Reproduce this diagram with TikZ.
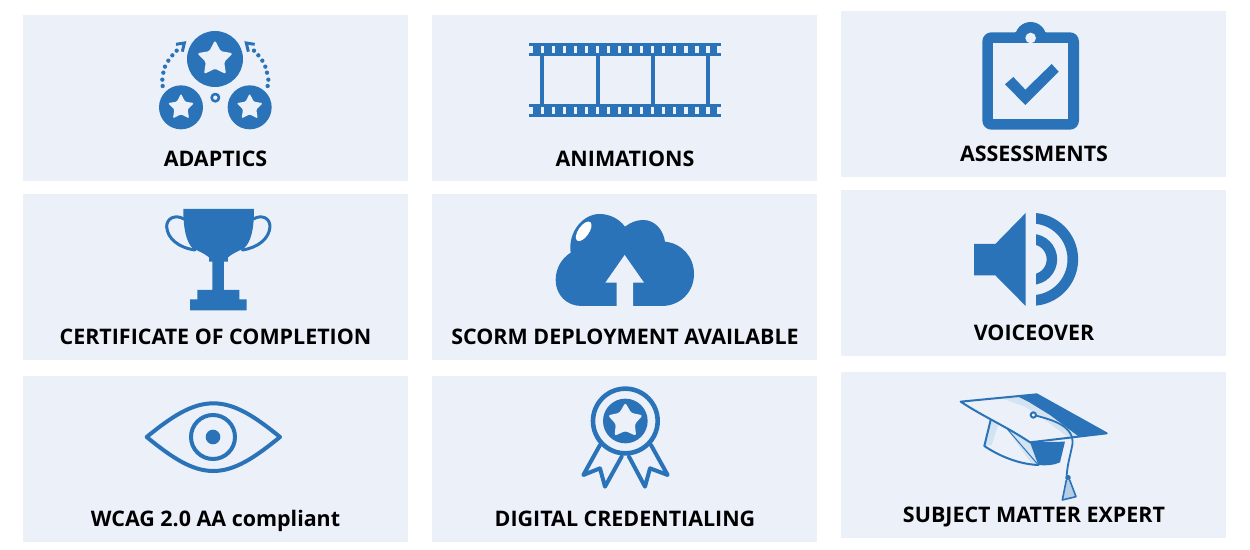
\documentclass[tikz,border=0pt]{standalone}
\usepackage{fontspec}
\setmainfont{Open Sans}
\definecolor{panelc}{HTML}{ECF0F9}
\definecolor{iconc}{HTML}{2A73B8}
\newcommand{\rstar}[4][1pt]{%
  \fill[panelc,rounded corners=#1,shift={(#2)}]
    (-90:#3) -- (-54:#4) -- (-18:#3) -- (18:#4) -- (54:#3) -- (90:#4) -- (126:#3) -- (162:#4) -- (198:#3) -- (234:#4) -- cycle;}
\tikzset{
  x=0.5pt,y=-0.5pt,
  panel/.style={fill=panelc,draw=none,minimum width=192.5pt,minimum height=83pt,inner sep=0pt,outer sep=0pt},
  lab/.style={font=\bfseries\fontsize{10.72}{12}\selectfont,text=black,inner sep=0pt,anchor=base},
  zoomat/.style 2 args={shift={(#1,#2)},scale=1/3},
  ic/.style={fill=iconc,draw=none},
  ln/.style={draw=iconc,fill=none,line join=round,line cap=round},
  hole/.style={fill=panelc,draw=none}
}
\begin{document}
\begin{tikzpicture}
\fill[white] (0,0) rectangle (1250,550);
\useasboundingbox (0,0) rectangle (1250,550);
% panels
\node[panel] (p1) at (215.5,98) {};
\node[panel] (p2) at (624.5,98) {};
\node[panel] (p3) at (1033.5,94) {};
\node[panel] (p4) at (215.5,277) {};
\node[panel] (p5) at (624.5,277) {};
\node[panel] (p6) at (1033.5,273) {};
\node[panel] (p7) at (215.5,459) {};
\node[panel] (p8) at (624.5,459) {};
\node[panel] (p9) at (1033.5,455) {};
% labels
\node[lab] (l1) at (215.5,167) {ADAPTICS};
\node[lab] (l2) at (625,167) {ANIMATIONS};
\node[lab] (l3) at (1034,162) {ASSESSMENTS};
\node[lab] (l4) at (215.5,345) {CERTIFICATE OF COMPLETION};
\node[lab] (l5) at (625,345) {SCORM DEPLOYMENT AVAILABLE};
\node[lab] (l6) at (1034,341) {VOICEOVER};
\node[lab] (l7) at (215.5,527) {WCAG 2.0 AA compliant};
\node[lab] (l8) at (625,527) {DIGITAL CREDENTIALING};
\node[lab] (l9) at (1034,523) {SUBJECT MATTER EXPERT};
% adaptics
\begin{scope}[zoomat={140}{20}]
  \fill[ic] (225,117) circle (84);
  \fill[ic] (123,262) circle (66);
  \fill[ic] (329,262) circle (66);
  \rstar[0.8pt]{225,117}{56}{29}
  \rstar[0.6pt]{123,262}{41}{21}
  \rstar[0.6pt]{329,262}{41}{21}
  \draw[ln,line width=1.3pt] (226,233) circle (11);
  \foreach \a/\b in {68/198,67/179,70/158,75/140,85/122,97/106,110/92,383/198,385/179,381/158,376/140,367/122,355/106,342/92}
    \fill[ic] (\a,\b) circle (6.5);
  \draw[ln,line width=1.5pt,line join=miter,line cap=butt] (108,73) -- (133,69) -- (127,95);
  \draw[ln,line width=1.5pt,line join=miter,line cap=butt] (344,73) -- (319,69) -- (325,95);
\end{scope}
% film
\begin{scope}[zoomat={520}{30}]
  \fill[ic] (28,38) rectangle (602,78);
  \fill[ic] (28,222) rectangle (602,262);
  \foreach \vx in {60,227,393,558} \fill[ic] (\vx,78) rectangle ++(12.5,144);
  \foreach \vy in {48,232}{
    \fill[hole] (28,\vy) rectangle (40,\vy+20);
    \fill[hole] (590,\vy) rectangle (602,\vy+20);
    \foreach \vx in {67,100,133,166,199,232,266,299,332,365,398,431,464,498,531,564}
      \fill[hole] (\vx-5,\vy) rectangle (\vx+5,\vy+20);
  }
\end{scope}
% clipboard
\begin{scope}[zoomat={960}{15}]
  \fill[ic] (212,68) circle (47);
  \fill[ic,rounded corners=4.5pt] (67,52) rectangle (357,344);
  \fill[hole] (99,85) rectangle (325,313);
  \fill[ic] (165,52) rectangle (259,85);
  \fill[hole] (212,69) circle (16);
  \fill[ic] (135,208) -- (160,186) -- (196,224) -- (275,147) -- (296,170) -- (196,270) -- cycle;
\end{scope}
% trophy
\begin{scope}[zoomat={150}{200}]
  \fill[ic] (100,27) -- (312,27) .. controls (312,85) and (304,125) .. (282,145)
    .. controls (265,153) and (248,160) .. (234,172) -- (234,185) -- (222,185) -- (222,270) -- (268,270) -- (268,298) -- (290,298) -- (290,331)
    -- (120,331) -- (120,298) -- (142,298) -- (142,270) -- (187,270) -- (187,185) -- (177,185) -- (177,172)
    .. controls (163,160) and (145,153) .. (128,145) .. controls (108,125) and (100,85) .. (100,27) -- cycle;
  \draw[ln,line width=1.5pt] (102,57) .. controls (75,42) and (50,55) .. (50,80) .. controls (52,115) and (85,143) .. (135,150);
  \draw[ln,line width=1.5pt] (310,57) .. controls (337,42) and (360,55) .. (360,80) .. controls (358,115) and (325,143) .. (277,150);
\end{scope}
% cloud
\begin{scope}[zoomat={540}{205}]
  \fill[ic] (125,303) .. controls (80,303) and (47,270) .. (47,225)
    .. controls (47,190) and (65,160) .. (92,143)
    .. controls (83,80) and (130,27) .. (178,27)
    .. controls (210,27) and (238,42) .. (255,65)
    .. controls (272,52) and (290,45) .. (310,45)
    .. controls (345,45) and (370,75) .. (375,110)
    .. controls (425,115) and (462,155) .. (462,207)
    .. controls (462,262) and (420,303) .. (365,303) -- cycle;
  \fill[hole] (254,150) -- (312,233) -- (279,233) -- (279,304) -- (230,304) -- (230,233) -- (196,233) -- cycle;
  \fill[white] (131,79) circle [x radius=34,y radius=16,rotate=55];
\end{scope}
% speaker
\begin{scope}[zoomat={960}{205}]
  \fill[ic] (42,117) -- (106,117) -- (197,24) -- (197,303) -- (106,211) -- (42,211) -- cycle;
  \begin{scope}
    \clip (228,0) rectangle (400,330);
    \fill[ic,even odd rule] (215,163) circle (139.5) (215,163) circle (107.5);
    \fill[ic,even odd rule] (215,163) circle (76.5) (215,163) circle (45);
  \end{scope}
\end{scope}
% eye
\begin{scope}[zoomat={135}{395}]
  \draw[ln,line width=2pt] (35,126) .. controls (110,65) and (170,25) .. (235,25) .. controls (300,25) and (360,65) .. (435,126)
    .. controls (360,187) and (300,228) .. (235,228) .. controls (170,228) and (110,187) .. (35,126) -- cycle;
  \draw[ln,line width=2pt] (234,126) circle (66);
  \fill[ic] (234,126) circle (22);
\end{scope}
% badge
\begin{scope}[zoomat={570}{380}]
  \draw[ln,line width=2.3pt] (166,123) circle (97);
  \fill[ic] (166,123) circle (67);
  \rstar[1.2pt]{166,123}{55}{30}
  \draw[ln,line width=2pt] (90,195) -- (40,285) -- (90,265) -- (105,320) -- (155,230);
  \draw[ln,line width=2pt] (243,195) -- (293,285) -- (240,265) -- (225,320) -- (177,230);
\end{scope}
% cap
\begin{scope}[zoomat={950}{385}]
  \fill[iconc!20] (150,38) -- (200,33) -- (235,50) -- (300,90) -- (388,156) -- (358,159) -- (285,105) -- (225,65) -- cycle;
  \fill[iconc!20] (122,105) -- (145,118) -- (125,180) -- (106,183) -- cycle;
  \fill[iconc!20] (170,130) -- (240,172) -- (265,240) -- (245,236) -- cycle;
  \fill[ic] (200,33) -- (260,28) -- (470,145) -- (388,156) -- (300,90) -- (235,50) -- cycle;
  \draw[ln,line width=1pt] (32,50) -- (260,28) -- (470,145) -- (240,172) .. controls (170,125) and (100,95) .. (32,50) -- cycle;
  \fill[ic] (240,172) -- (345,170) -- (330,232) .. controls (310,242) and (285,242) .. (265,240) -- cycle;
  \draw[ln,line width=1pt] (122,105) -- (103,183) .. controls (150,215) and (210,238) .. (265,240);
  \draw[ln,line width=0.5pt] (170,130) -- (265,240);
  \draw[ln,line width=1pt] (250,90) circle (8);
  \draw[ln,line width=0.9pt] (258,92) .. controls (310,105) and (375,125) .. (367,180) .. controls (360,215) and (352,240) .. (350,272);
  \draw[ln,line width=1.3pt] (354,278) circle (5);
  \fill[iconc!35] (349,285) -- (337,345) -- (378,335) -- (359,285) -- cycle;
  \draw[ln,line width=0.8pt] (349,285) -- (337,345) -- (378,335) -- (359,285);
\end{scope}
\end{tikzpicture}
\end{document}
